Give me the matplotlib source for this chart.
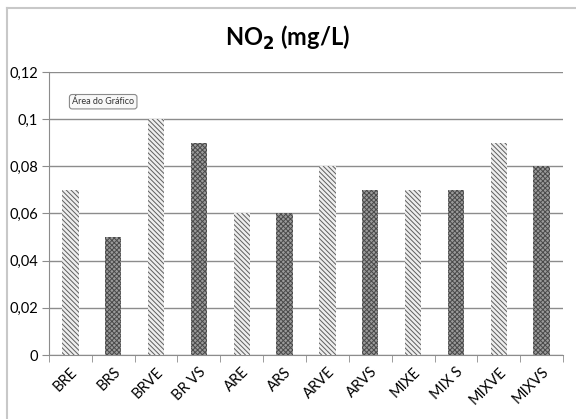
import matplotlib.pyplot as plt
import numpy as np

plt.rcParams['hatch.linewidth'] = 0.7

categories = ["BRE", "BRS", "BRVE", "BR VS", "ARE", "ARS",
              "ARVE", "ARVS", "MIXE", "MIX S", "MIXVE", "MIXVS"]
no2 = [0.07, 0.05, 0.10, 0.09, 0.06, 0.06,
       0.08, 0.07, 0.07, 0.07, 0.09, 0.08]
yticks = [0, 0.02, 0.04, 0.06, 0.08, 0.10, 0.12]
ytick_labels = ["0", "0,02", "0,04", "0,06", "0,08", "0,1", "0,12"]


def main():
    fig = plt.figure(figsize=(5.76, 4.19), dpi=100)
    ax = fig.add_axes([49 / 576, 64 / 419, 514 / 576, 283 / 419])

    # outer chart frame (only left and top edges visible)
    fig.add_artist(plt.Line2D([7 / 576, 7 / 576], [0, 1 - 8 / 419],
                              color='#c8c8c8', lw=1.5, transform=fig.transFigure))
    fig.add_artist(plt.Line2D([7 / 576, 1], [1 - 8 / 419, 1 - 8 / 419],
                              color='#c8c8c8', lw=1.5, transform=fig.transFigure))

    x = np.arange(len(categories))
    for i, v in enumerate(no2):
        if i % 2 == 0:
            ax.bar(x[i], v, width=0.38, color='#eeeeee', edgecolor='#5e5e5e',
                   hatch='\\\\\\\\\\\\\\', linewidth=0, zorder=3)
        else:
            ax.bar(x[i], v, width=0.38, color='#9a9a9a', edgecolor='#4a4a4a',
                   hatch='xxxxxxx', linewidth=0, zorder=3)

    ax.set_xlim(-0.5, len(categories) - 0.5)
    ax.set_ylim(0, 0.12)
    ax.set_yticks(yticks)
    ax.set_yticklabels(ytick_labels, fontsize=10.5, family='Lato')
    ax.yaxis.grid(True, color='#8c8c8c', lw=1, zorder=0)
    ax.set_axisbelow(True)

    ax.set_xticks(x)
    ax.set_xticklabels(categories, rotation=45, ha='right', rotation_mode='anchor',
                       fontsize=10.5, family='Lato')
    ax.set_xticks(np.arange(-0.5, len(categories)), minor=True)
    ax.tick_params(axis='x', which='major', length=0, pad=7)
    ax.tick_params(axis='x', which='minor', length=5, color='#8c8c8c')
    ax.tick_params(axis='y', length=5, color='#8c8c8c', pad=3)

    for side in ['top', 'right']:
        ax.spines[side].set_visible(False)
    ax.spines['left'].set_color('#8c8c8c')
    ax.spines['bottom'].set_color('#8c8c8c')

    fig.text(0.5, 1 - 38 / 419, r"NO$_\mathbf{2}$ (mg/L)", ha='center', va='center',
             fontsize=17, fontweight='bold', family='Lato')

    ax.text(0.045, 0.895, "Área do Gráfico", transform=ax.transAxes,
            fontsize=6.5, family='Lato', color='#333333', va='center',
            bbox=dict(boxstyle='round,pad=0.3', fc='#f8f8f8', ec='#8a8a8a', lw=0.8))

    fig.savefig("out.png", dpi=100)


if __name__ == '__main__':
    main()
